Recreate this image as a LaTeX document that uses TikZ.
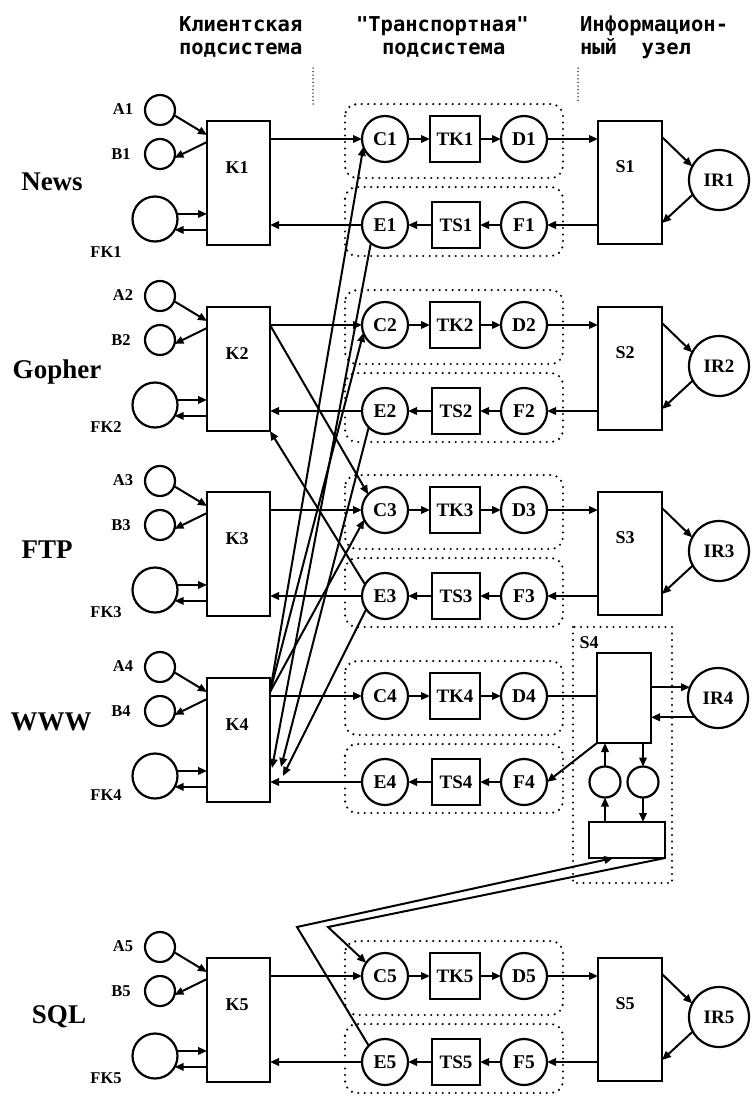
\documentclass[tikz,border=0pt]{standalone}
\usepackage{fontspec}
\setmainfont{Liberation Serif}
\newfontfamily\hdrfont{DejaVu Sans Mono}
\usetikzlibrary{arrows.meta,calc}
\begin{document}
\begin{tikzpicture}[x=1pt,y=-1pt,
  every node/.style={inner sep=0pt,outer sep=0pt},
  ln/.style={line width=2pt},
  arr/.style={line width=2pt,-{Triangle[length=9pt,width=7.5pt]}},
  bx/.style={draw,line width=2.2pt,rectangle},
  crc/.style={draw,line width=2.2pt,circle,minimum size=46pt,font=\bfseries\fontsize{19.5}{19.5}\selectfont},
  smc/.style={draw,line width=2.2pt,circle,minimum size=30pt},
  fkc/.style={draw,line width=2.2pt,circle,minimum size=45pt},
  irc/.style={draw,line width=2.2pt,circle,minimum size=60pt,font=\bfseries\fontsize{19}{19}\selectfont},
  inl/.style={font=\bfseries\fontsize{19}{19}\selectfont},
  kl/.style={font=\bfseries\fontsize{18}{18}\selectfont},
  sl/.style={font=\bfseries\fontsize{16.5}{16.5}\selectfont},
  rl/.style={font=\bfseries\fontsize{27}{27}\selectfont},
  grp/.style={line width=2.4pt,dash pattern=on 0pt off 6.5pt,line cap=round,rounded corners=12pt},
  sqf/.style={line width=2.4pt,dash pattern=on 0pt off 6.5pt,line cap=round},
  sepl/.style={line width=1.5pt,dash pattern=on 0pt off 3.6pt,line cap=round},
  hdr/.style={anchor=base west,font=\hdrfont\bfseries\fontsize{20.5}{20.5}\selectfont}
]
\path[fill=white] (0,0) rectangle (753,1098);
\useasboundingbox (0,0) rectangle (753,1098);

% headers
\node[hdr] (h1a) at (179,31) {Клиентская};
\node[hdr] (h1b) at (179,54) {подсистема};
\node[hdr] (h2a) at (356,31) {"Транспортная"};
\node[hdr] (h2b) at (382,54) {подсистема};
\node[hdr] (h3a) at (580,31) {Информацион-};
\node[hdr] (h3b) at (580,54) {ный~~узел};
\draw[sepl] (313,68) -- (313,105);
\draw[sepl] (578,68) -- (578,103);

% rows: client and transport parts
\foreach \q/\yb/\nm/\nx/\ny/\fy in {1/121/News/52/61/131,2/307/Gopher/57/65/120,3/492/FTP/47/58/120,4/678/WWW/51/44/117,5/958/SQL/59/59/120}{
  \node[rl] (rn\q) at (\nx,\yb+\ny) {\nm};
  \node[smc] (A\q) at (160,\yb-11) {};
  \node[sl] (la\q) at (123,\yb-12) {A\q};
  \node[smc] (B\q) at (160,\yb+33) {};
  \node[sl] (lb\q) at (121,\yb+33) {B\q};
  \node[fkc] (FK\q) at (155,\yb+98) {};
  \node[sl] (lfk\q) at (106,\yb+\fy) {FK\q};
  \node[bx,minimum width=63pt,minimum height=124pt] (K\q) at (238.5,\yb+62) {};
  \node[kl] (lk\q) at (237,\yb+47) {K\q};
  \draw[grp] (345,\yb-17) rectangle (563,\yb+57);
  \draw[grp] (345,\yb+66) rectangle (563,\yb+135);
  \node[crc] (C\q) at (385,\yb+18) {C\q};
  \node[bx,inl,minimum width=50pt,minimum height=46pt] (TK\q) at (455,\yb+18) {TK\q};
  \node[crc] (D\q) at (524,\yb+18) {D\q};
  \node[crc] (E\q) at (385,\yb+104) {E\q};
  \node[bx,inl,minimum width=48pt,minimum height=46pt] (TS\q) at (456,\yb+104) {TS\q};
  \node[crc] (F\q) at (524,\yb+104) {F\q};
  \draw[arr] (A\q.-20) -- ($(K\q.north west)+(0,14)$);
  \draw[arr] ($(K\q.north west)+(0,21)$) -- (B\q.-15);
  \draw[arr] (FK\q.13) -- (FK\q.13 -| K\q.west);
  \draw[arr] (FK\q.-29 -| K\q.west) -- (FK\q.-29);
  \draw[arr] (K\q.east |- C\q.west) -- (C\q.west);
  \draw[arr] (C\q) -- (TK\q);
  \draw[arr] (TK\q) -- (D\q);
  \draw[arr] (F\q) -- (TS\q);
  \draw[arr] (TS\q) -- (E\q);
  \draw[arr] (E\q.west) -- (E\q.west -| K\q.east);
}

% information nodes (rows 1,2,3,5)
\foreach \q/\yb in {1/121,2/307,3/492,5/958}{
  \node[bx,minimum width=64pt,minimum height=123pt] (S\q) at (630,\yb+61.5) {};
  \node[kl] (ls\q) at (625,\yb+46) {S\q};
  \node[irc] (IR\q) at (719,\yb+59) {IR\q};
  \draw[arr] (D\q.east) -- (D\q.east -| S\q.west);
  \draw[arr] (F\q.east -| S\q.west) -- (F\q.east);
  \draw[arr] ($(S\q.north east)+(0,16)$) -- (IR\q.153);
  \draw[arr] (IR\q.209) -- ($(S\q.north east)+(0,102)$);
}

% S4 complex
\draw[sqf] (573,627) rectangle (672,883);
\node[kl] (ls4) at (589,643) {S4};
\node[bx,minimum width=54pt,minimum height=90pt] (S4) at (624,698) {};
\node[irc] (IR4) at (718,698) {IR4};
\node[smc,minimum size=31pt] (m1) at (605,782) {};
\node[smc,minimum size=31pt] (m2) at (643,782) {};
\node[bx,minimum width=76pt,minimum height=36pt] (LB) at (627,840) {};
\draw[arr] (IR4.159 -| S4.east) -- (IR4.159);
\draw[arr] (IR4.220) -- (IR4.220 -| S4.east);
\draw[ln] (D4.east) -- (D4.east -| S4.west);
\draw[arr] (S4.south west) -- (F4.east);
\draw[arr] (m1) -- (m1 |- S4.south);
\draw[arr] (m2 |- S4.south) -- (m2);
\draw[arr] (m1 |- LB.north) -- (m1);
\draw[arr] (m2) -- (m2 |- LB.north);

% links S4 <-> SQL transport
\coordinate (bend1) at (297,927);
\coordinate (bend2) at (328,927);
\coordinate (lbin) at ($(LB.south west)!0.32!(LB.south east)$);
\draw[arr] (E5.135) -- (bend1) -- (lbin);
\draw[arr] (LB.south east) -- (bend2) -- (C5.145);

% WWW client to all transport channels
\coordinate (k4o) at ($(K4.north east)+(0,14)$);
\coordinate (e1k) at ($(K4.north east)+(2,90)$);
\coordinate (e2k) at ($(K4.north east)+(11,89)$);
\coordinate (e3k) at ($(K4.north east)+(13,98)$);
\draw[arr] (k4o) -- (C1.200);
\draw[arr] (k4o) -- (C2.200);
\draw[arr] (k4o) -- (C3.205);
\draw[arr] (E1.232) -- (e1k);
\draw[arr] (E2.225) -- (e2k);
\draw[arr] (E3.215) -- (e3k);

% Gopher client to FTP channel
\draw[arr] (K2.east |- C2.west) -- (C3.137);
\draw[arr] (E3.150) -- (K2.south east);
\end{tikzpicture}
\end{document}
